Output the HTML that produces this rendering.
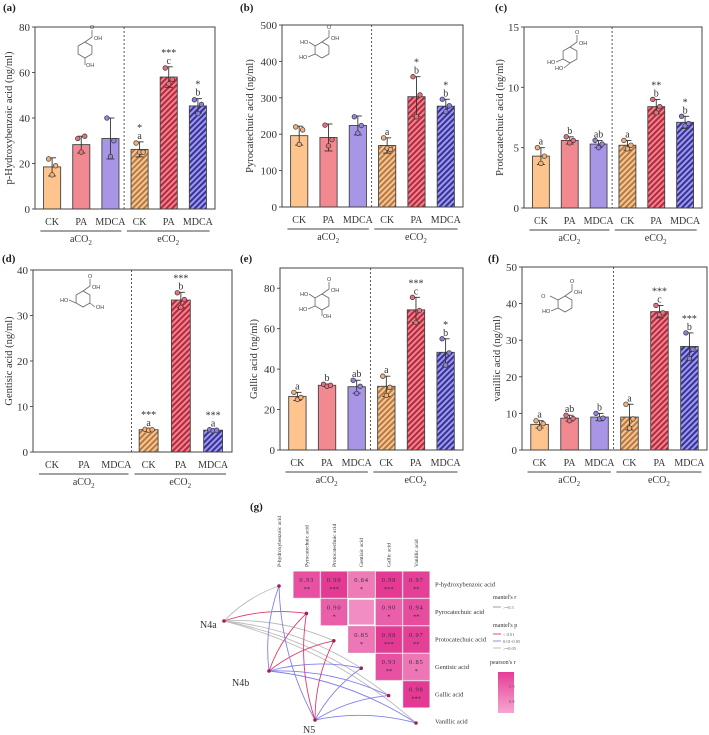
<!DOCTYPE html>
<html><head><meta charset="utf-8">
<style>
html,body{margin:0;padding:0;background:#fff;}
svg{display:block;font-family:"Liberation Serif",serif;}
</style></head>
<body>
<svg id="fig" width="709" height="735" viewBox="0 0 709 735" xmlns="http://www.w3.org/2000/svg">
<defs>
<pattern id="hCK" patternUnits="userSpaceOnUse" width="4" height="4" patternTransform="rotate(45)"><rect width="4" height="4" fill="#f8c898"/><rect width="2.1" height="4" fill="#b87a40"/></pattern>
<pattern id="hPA" patternUnits="userSpaceOnUse" width="4" height="4" patternTransform="rotate(45)"><rect width="4" height="4" fill="#ee8892"/><rect width="2.1" height="4" fill="#b8283e"/></pattern>
<pattern id="hMD" patternUnits="userSpaceOnUse" width="4" height="4" patternTransform="rotate(45)"><rect width="4" height="4" fill="#a69cea"/><rect width="2.1" height="4" fill="#34349c"/></pattern>
<linearGradient id="pgrad" x1="0" y1="1" x2="0" y2="0"><stop offset="0" stop-color="#f6a6d0"/><stop offset="1" stop-color="#e63d96"/></linearGradient>
</defs>
</svg>
<script>
// ---------- data ----------
const categories = ['CK','PA','MDCA','CK','PA','MDCA'];
const aTicks = [0,20,40,60,80];
const aMeans = [18.5,28.3,31,26.2,58,45.3];
const aSD = [4,3.7,9,3.3,4.5,3.2];
const aPts = [[22,15,19],[31,25,32],[40,23,30],[29,25,25],[62,55,57],[48,42,46]];
const aLetters = ['','','','a','c','b'];
const aStars = ['','','','*','***','*'];

const bTicks = [0,100,200,300,400,500];
const bMeans = [196,191,224,169,303,277];
const bSD = [26,37,26,21,55,19];
const bPts = [[220,172,212],[225,168,185],[248,203,224],[190,162,158],[358,248,308],[296,262,278]];
const bLetters = ['','','','a','b','b'];
const bStars = ['','','','','*','*'];

const cTicks = [0,5,10,15];
const cMeans = [4.3,5.6,5.3,5.2,8.4,7.1];
const cSD = [0.7,0.3,0.3,0.4,0.6,0.5];
const cPts = [[5.0,3.7,4.3],[5.9,5.4,5.6],[5.6,5.0,5.3],[5.6,4.9,5.2],[9.0,7.9,8.4],[7.6,6.8,7.0]];
const cLetters = ['a','b','ab','a','b','b'];
const cStars = ['','','','','**','*'];

const dTicks = [0,10,20,30,40];
const dMeans = [0,0,0,4.9,33.4,4.8];
const dSD = [0,0,0,0.2,1.7,0.2];
const dPts = [[],[],[],[5.0,4.8,4.9],[35,31.8,33.5],[4.9,4.7,4.8]];
const dLetters = ['','','','a','b','a'];
const dStars = ['','','','***','***','***'];

const eTicks = [0,20,40,60,80];
const eMeans = [26.5,32,31.3,31.5,69.3,48.3];
const eSD = [2,0.6,3.2,5,6.2,6.7];
const ePts = [[28.5,25,26],[32.5,31.5,32],[34.5,28,31.5],[36.5,27,31],[75.5,63,69],[55,42,48]];
const eLetters = ['a','b','ab','a','c','b'];
const eStars = ['','','','','***','*'];

const fTicks = [0,10,20,30,40,50];
const fMeans = [7,8.7,9,9,37.8,28.3];
const fSD = [1,0.8,1,3.5,1.7,3.7];
const fPts = [[8,6,7.2],[9.5,8,8.6],[10,8.5,8.7],[12.5,6,8.5],[39.5,37,37.5],[32,25,27.5]];
const fLetters = ['a','ab','b','a','c','b'];
const fStars = ['','','','','***','***'];

// heatmap (upper triangle, row r vs variable c+1)
const hmVars = ['P-hydroxybenzoic acid','Pyrocatechuic acid','Protocatechuic acid','Gentisic acid','Gallic acid','Vanillic acid'];
const hmValues = [[0.93,0.99,0.84,0.98,0.97],[0.90,0.80,0.90,0.94],[0.85,0.98,0.97],[0.93,0.85],[0.98]];
const hmStars = [['**','***','*','***','**'],['*','','*','**'],['*','***','**'],['**','*'],['***']];
const hmShown = [[1,1,1,1,1],[1,0,1,1],[1,1,1],[1,1],[1]];
const envNames = ['N4a','N4b','N5'];
const mantelP = [['grey','red','grey','grey','grey','grey'],['blue','red','red','blue','blue','blue'],['blue','red','red','blue','blue','blue']];

// ---------- helpers ----------
const svg = document.getElementById('fig');
const NS = 'http://www.w3.org/2000/svg';
function mk(tag, attrs, parent){ const e=document.createElementNS(NS,tag); for(const k in attrs) e.setAttribute(k,attrs[k]); (parent||svg).appendChild(e); return e; }
function txt(s, attrs, parent){ const e=mk('text',attrs,parent); e.textContent=s; return e; }

const fills = ['#fdc48e','#f28890','#a895e6','url(#hCK)','url(#hPA)','url(#hMD)'];
const ptFill = ['#f5b07a','#e8707c','#9582dc','#f5b07a','#e8707c','#8a80d8'];

function molecule(g, cx, cy, subs){
  const r=8, pts=[];
  for(let i=0;i<6;i++){ const a=Math.PI/180*(60*i-90); pts.push([cx+r*Math.cos(a), cy+r*Math.sin(a)]); }
  mk('polygon',{points:pts.map(p=>p.join(',')).join(' '),fill:'none',stroke:'#666','stroke-width':0.8},g);
  mk('line',{x1:pts[0][0],y1:pts[0][1],x2:pts[0][0]+7,y2:pts[0][1]-5,stroke:'#666','stroke-width':0.8},g);
  mk('line',{x1:pts[0][0]+7,y1:pts[0][1]-5,x2:pts[0][0]+7,y2:pts[0][1]-12,stroke:'#666','stroke-width':0.8},g);
  txt('O',{x:pts[0][0]+5,y:pts[0][1]-13,'font-size':5.5,fill:'#444','font-family':'Liberation Sans, sans-serif'},g);
  txt('OH',{x:pts[0][0]+9,y:pts[0][1]-2,'font-size':5.5,fill:'#444','font-family':'Liberation Sans, sans-serif'},g);
  subs.forEach(s=>{ const p=pts[s[0]]; const dx=s[1], dy=s[2];
    mk('line',{x1:p[0],y1:p[1],x2:p[0]+dx,y2:p[1]+dy,stroke:'#666','stroke-width':0.8},g);
    txt(s[3],{x:p[0]+dx+(dx<0?-9:1),y:p[1]+dy+2,'font-size':5.5,fill:'#444','font-family':'Liberation Sans, sans-serif'},g);
  });
}

function panel(name, geom, ticks, means, sd, pts, letters, stars){
  const g = mk('g',{});
  
  
  const {x0,x1,y0,y1,ymax} = geom, w=x1-x0;
  const y = v => y1 - v/ymax*(y1-y0);
  const xc = i => x0 + w*(0.095+0.162*i);
  const bw = w*0.095;
  txt(geom.label,{x:geom.lx,y:geom.ly,'font-size':11,'font-weight':'bold',fill:'#222'},g);
  means.forEach((m,i)=>{
    if(m<=0) return;
    const b=mk('rect',{x:xc(i)-bw/2,y:y(m),width:bw,height:y(0)-y(m),fill:fills[i],stroke:'#444','stroke-width':0.9},g);
    
    
    const lo=y(m-sd[i]), hi=y(m+sd[i]);
    mk('line',{x1:xc(i),y1:lo,x2:xc(i),y2:hi,stroke:'#333','stroke-width':0.9},g);
    mk('line',{x1:xc(i)-4,y1:hi,x2:xc(i)+4,y2:hi,stroke:'#333','stroke-width':0.9},g);
    mk('line',{x1:xc(i)-4,y1:lo,x2:xc(i)+4,y2:lo,stroke:'#333','stroke-width':0.9},g);
    pts[i].forEach((p,j)=>{
      const c=mk('circle',{cx:xc(i)+(j-1)*3.5,cy:y(p),r:2.3,fill:ptFill[i],stroke:'#333','stroke-width':0.7},g);
      
      
    });
    const top=y(m+sd[i]);
    if(letters[i]) txt(letters[i],{x:xc(i),y:top-3,'text-anchor':'middle','font-size':10,fill:'#333'},g);
    if(stars[i]) txt(stars[i],{x:xc(i),y:top-(letters[i]?11:3),'text-anchor':'middle','font-size':10,fill:'#333'},g);
  });
  const f=mk('rect',{x:x0,y:y0,width:w,height:y1-y0,fill:'none',stroke:'#444','stroke-width':1},g);
  
  
  const dx=x0+w*0.495;
  mk('line',{x1:dx,y1:y0,x2:dx,y2:y1,stroke:'#444','stroke-width':0.9,'stroke-dasharray':'2,2'},g);
  ticks.forEach(t=>{
    mk('line',{x1:x0-3,y1:y(t),x2:x0,y2:y(t),stroke:'#444','stroke-width':0.9},g);
    const tl=txt(String(t),{x:x0-5,y:y(t)+4,'text-anchor':'end','font-size':11,fill:'#333'},g);
    
    
  });
  const yt=txt(geom.ytitle,{x:0,y:0,transform:`translate(${geom.tx},${(y0+y1)/2}) rotate(-90)`,'text-anchor':'middle','font-size':10.5,fill:'#333'},g);
  
  
  categories.forEach((c,i)=>{
    const cl=txt(c,{x:xc(i),y:y1+16,'text-anchor':'middle','font-size':10,fill:'#333'},g);
    
    
  });
  mk('line',{x1:x0+w*0.03,y1:y1+22,x2:x0+w*0.48,y2:y1+22,stroke:'#444','stroke-width':0.9},g);
  mk('line',{x1:x0+w*0.51,y1:y1+22,x2:x0+w*0.97,y2:y1+22,stroke:'#444','stroke-width':0.9},g);
  [['aCO',x0+w*0.255],['eCO',x0+w*0.74]].forEach(gr=>{
    const t=txt('',{x:gr[1],y:y1+33,'text-anchor':'middle','font-size':10,fill:'#333'},g);
    
    
    const s1=document.createElementNS(NS,'tspan'); s1.textContent=gr[0]; t.appendChild(s1);
    const s2=document.createElementNS(NS,'tspan'); s2.setAttribute('font-size','7'); s2.setAttribute('dy','3'); s2.textContent='2'; t.appendChild(s2);
  });
  molecule(g, geom.mx, geom.my, geom.subs);
}

panel('panel-a',{x0:35,x1:215,y0:27,y1:209,ymax:80,label:'(a)',lx:3,ly:11,ytitle:'p-Hydroxybenzoic acid (ng/ml)',tx:12,mx:85,my:50,subs:[[3,0,7,'OH']]},aTicks,aMeans,aSD,aPts,aLetters,aStars);
panel('panel-b',{x0:282,x1:463,y0:25,y1:207,ymax:500,label:'(b)',lx:240,ly:11,ytitle:'Pyrocatechuic acid (ng/ml)',tx:253,mx:322,my:50,subs:[[5,-6,-4,'HO'],[4,-7,3,'HO']]},bTicks,bMeans,bSD,bPts,bLetters,bStars);
panel('panel-c',{x0:524,x1:702,y0:27,y1:208,ymax:15,label:'(c)',lx:495,ly:11,ytitle:'Protocatechuic acid (ng/ml)',tx:503,mx:570,my:55,subs:[[4,-7,3,'HO'],[3,-6,5,'HO']]},cTicks,cMeans,cSD,cPts,cLetters,cStars);
panel('panel-d',{x0:33,x1:232,y0:270,y1:452,ymax:40,label:'(d)',lx:2,ly:262,ytitle:'Gentisic acid (ng/ml)',tx:12,mx:83,my:299,subs:[[4,-7,-3,'HO'],[2,5,4,'OH']]},dTicks,dMeans,dSD,dPts,dLetters,dStars);
panel('panel-e',{x0:280,x1:463,y0:268,y1:450,ymax:90,label:'(e)',lx:240,ly:262,ytitle:'Gallic acid (ng/ml)',tx:257,mx:322,my:302,subs:[[5,-6,-4,'HO'],[4,-7,3,'HO'],[3,0,6,'OH']]},eTicks,eMeans,eSD,ePts,eLetters,eStars);
panel('panel-f',{x0:522,x1:707,y0:267,y1:450,ymax:50,label:'(f)',lx:488,ly:262,ytitle:'vanillic acid (ng/ml)',tx:500,mx:565,my:304,subs:[[5,-8,-4,'O'],[4,-7,3,'HO']]},fTicks,fMeans,fSD,fPts,fLetters,fStars);

// ---------- panel g ----------
const G = mk('g',{});


txt('(g)',{x:250,y:510,'font-size':11,'font-weight':'bold',fill:'#222'},G);
const cell=27.4, hx0=293, hy0=571;
function hmColor(v){ const t=Math.max(0,Math.min(1,(v-0.78)/0.2)); const a=[244,150,200], b=[228,58,148];
  return `rgb(${a.map((c,i)=>Math.round(c+(b[i]-c)*t)).join(',')})`; }
hmValues.forEach((row,r)=>{
  row.forEach((v,k)=>{
    const c=r+k, x=hx0+c*cell, y=hy0+r*cell;
    const rc=mk('rect',{x:x+0.5,y:y+0.5,width:cell-1,height:cell-1,fill:hmColor(v),stroke:hmShown[r][k]?'#d0a0b8':'#fff','stroke-width':hmShown[r][k]?0.5:1.5},G);
    
    
    if(hmShown[r][k]){
      txt(v.toFixed(2),{x:x+cell/2,y:y+11,'text-anchor':'middle','font-size':6.5,fill:'#333','letter-spacing':'0.8'},G);
      txt(hmStars[r][k],{x:x+cell/2,y:y+20,'text-anchor':'middle','font-size':6.5,fill:'#333'},G);
    }
  });
});
hmVars.forEach((v,i)=>{
  const cx=279+cell*i;
  const cl=txt(v,{x:0,y:0,transform:`translate(${cx+2},567) rotate(-90)`,'font-size':5.5,fill:'#333'},G);
  
  
  const rl=txt(v,{x:435,y:hy0+cell*i+cell/2+2,'font-size':6.5,fill:'#333'},G);
  
  
});
const envPos=[[224,621],[269,671],[315,720]];
const tgtPos=hmVars.map((v,i)=>[279+cell*i,586+cell*i]);
const lineCol={red:'#e0386a',blue:'#8080ee',grey:'#bbbbbb'};
mantelP.forEach((row,e)=>{
  row.forEach((col,t)=>{
    const [x1,y1]=envPos[e],[x2,y2]=tgtPos[t];
    const mx=(x1+x2)/2+(y2-y1)*0.12, my=(y1+y2)/2-(x2-x1)*0.12;
    const p=mk('path',{d:`M${x1},${y1} Q${mx},${my} ${x2},${y2}`,fill:'none',stroke:lineCol[col],'stroke-width':0.9},G);
    
    
  });
});
tgtPos.forEach(p=>mk('circle',{cx:p[0],cy:p[1],r:1.8,fill:'#a0205a'},G));
envPos.forEach((p,i)=>{
  mk('circle',{cx:p[0],cy:p[1],r:1.8,fill:'#a0205a'},G);
  const lp=[[200,628],[232,686],[303,733]][i];
  const l=txt(envNames[i],{x:lp[0],y:lp[1],'font-size':10,fill:'#333'},G);
  
  
});
const L=mk('g',{},G);


txt("mantel's r",{x:493,y:599,'font-size':6,fill:'#333'},L);
mk('line',{x1:493,y1:607,x2:501,y2:607,stroke:'#888','stroke-width':0.8},L);
txt('>=0.5',{x:503,y:609,'font-size':4.5,fill:'#666'},L);
txt("mantel's p",{x:493,y:627,'font-size':6,fill:'#333'},L);
[['red','< 0.01',634],['blue','0.01-0.05',641],['grey','>=0.05',648]].forEach(r=>{
  mk('line',{x1:493,y1:r[2],x2:501,y2:r[2],stroke:lineCol[r[0]],'stroke-width':0.9},L);
  txt(r[1],{x:503,y:r[2]+2,'font-size':4.5,fill:'#666'},L);
});
txt("pearson's r",{x:490,y:664,'font-size':6,fill:'#333'},L);
mk('rect',{x:498,y:672,width:16,height:41,fill:'url(#pgrad)'},L);
txt('0.9',{x:509,y:688,'font-size':4.5,fill:'#666'},L);
txt('0.8',{x:509,y:703,'font-size':4.5,fill:'#666'},L);
</script>
</body></html>
